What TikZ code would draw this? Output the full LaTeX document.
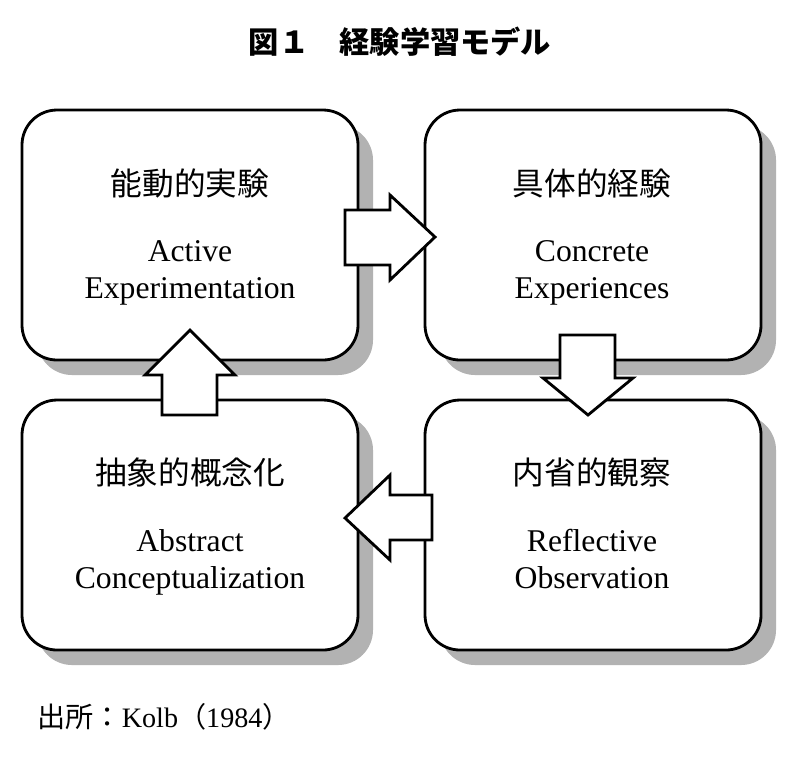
\documentclass[tikz,border=0pt]{standalone}
\usepackage{fontspec}
\setmainfont{Liberation Serif}
\newfontfamily\jfont{Noto Sans CJK JP}
\usetikzlibrary{positioning}

\begin{document}
\begin{tikzpicture}[x=0.01cm,y=-0.01cm,
  box/.style={draw,thick,fill=white,rounded corners=0.35cm},
  shade/.style={fill=black!30,rounded corners=0.35cm},
  blk/.style={draw,thick,fill=white,line join=miter},
  lab/.style={align=center,font=\fontsize{9}{10.4}\selectfont}]
  \useasboundingbox (0,0) rectangle (798,760);
  \node[font=\jfont\bfseries\fontsize{8.6}{10}\selectfont] (title) at (400,42) {図１　経験学習モデル};
  % shadows, then boxes
  \foreach \x/\y in {22/110,425/110,22/400,425/400} {
    \fill[shade] (\x+15,\y+15) rectangle ++(336,250);
    \draw[box] (\x,\y) rectangle ++(336,250);
  }
  % block arrows
  \draw[blk] (345,210) -- (390,210) -- (390,195) -- (435,237) -- (390,280) -- (390,265) -- (345,265) -- cycle;
  \draw[blk] (560,335) -- (615,335) -- (615,378) -- (633,378) -- (588,415) -- (543,378) -- (560,378) -- cycle;
  \draw[blk] (432,495) -- (390,495) -- (390,475) -- (345,518) -- (390,560) -- (390,540) -- (432,540) -- cycle;
  \draw[blk] (162,415) -- (162,375) -- (145,375) -- (190,330) -- (235,375) -- (217,375) -- (217,415) -- cycle;
  % labels
  \node[lab] (act) at (190,183) {\jfont 能動的実験};
  \node[lab,below=0.18cm of act] {Active\\Experimentation};
  \node[lab] (con) at (592,183) {\jfont 具体的経験};
  \node[lab,below=0.18cm of con] {Concrete\\Experiences};
  \node[lab] (abs) at (190,472) {\jfont 抽象的概念化};
  \node[lab,below=0.18cm of abs] {Abstract\\Conceptualization};
  \node[lab] (ref) at (592,472) {\jfont 内省的観察};
  \node[lab,below=0.18cm of ref] {Reflective\\Observation};
  \node[anchor=west,font=\fontsize{8}{10}\selectfont] (src) at (25,717) {{\jfont 出所：}Kolb{\jfont （}1984{\jfont ）}};
\end{tikzpicture}
\end{document}
